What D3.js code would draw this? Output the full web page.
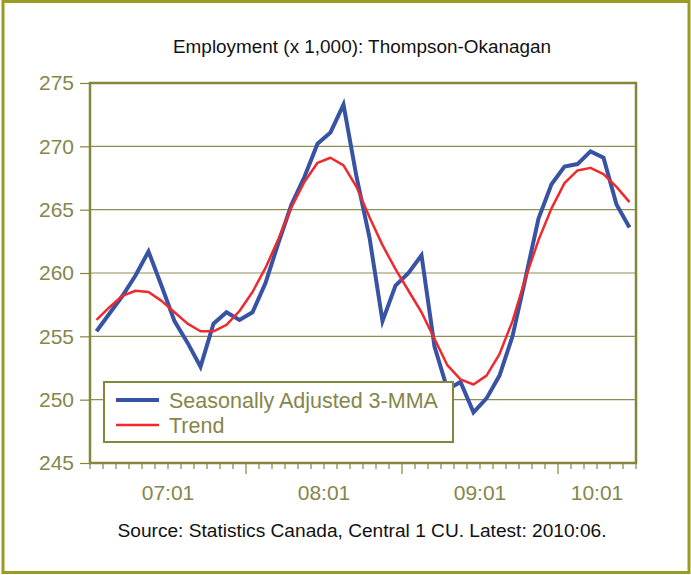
<!DOCTYPE html>
<html>
<head>
<meta charset="utf-8">
<script src="https://cdn.jsdelivr.net/npm/d3@7"></script>
<style>
  html, body { margin: 0; padding: 0; background: #fff; }
  svg { display: block; font-family: "Liberation Sans", Arial, sans-serif; }
</style>
</head>
<body>
<svg id="chart" width="691" height="575"></svg>
<script>
// Monthly categories, 2007:01 .. 2010:06
const months = [
  '07:01','07:02','07:03','07:04','07:05','07:06','07:07','07:08','07:09','07:10','07:11','07:12',
  '08:01','08:02','08:03','08:04','08:05','08:06','08:07','08:08','08:09','08:10','08:11','08:12',
  '09:01','09:02','09:03','09:04','09:05','09:06','09:07','09:08','09:09','09:10','09:11','09:12',
  '10:01','10:02','10:03','10:04','10:05','10:06'
];

const seasAdj = [
  255.4, 256.8, 258.2, 259.8, 261.7, 259.0, 256.2, 254.5, 252.6, 256.0, 256.9, 256.3,
  256.9, 259.2, 262.4, 265.4, 267.6, 270.2, 271.1, 273.3, 267.6, 262.8, 256.2, 259.0,
  260.0, 261.4, 254.2, 250.8, 251.4, 249.0, 250.1, 251.9, 255.0, 259.6, 264.3, 267.0,
  268.4, 268.6, 269.6, 269.1, 265.4, 263.6
];

const trend = [
  256.3, 257.3, 258.2, 258.6, 258.5, 257.8, 256.9, 256.0, 255.4, 255.4, 255.9, 257.0,
  258.5, 260.4, 262.7, 265.2, 267.2, 268.7, 269.1, 268.5, 266.8, 264.4, 262.2, 260.3,
  258.6, 256.9, 254.8, 252.7, 251.6, 251.2, 251.9, 253.6, 256.2, 259.6, 262.6, 265.1,
  267.1, 268.1, 268.3, 267.8, 266.8, 265.6
];

const yTicks = [245, 250, 255, 260, 265, 270, 275];
const xLabels = ['07:01', '08:01', '09:01', '10:01'];
const seriesNames = ['Seasonally Adjusted 3-MMA', 'Trend'];

const OLIVE = '#85853c';
const OLIVE_TXT = '#86864a';
const GRID = '#8e8e52';
const BLUE = '#3852a4';
const RED = '#ee2a2e';

const svg = d3.select('#chart');
const plot = { left: 90, right: 636, top: 83, bottom: 463 };

// outer frame
svg.append('rect')
  .attr('x', 3).attr('y', 1.5).attr('width', 686).attr('height', 571)
  .attr('fill', 'none').attr('stroke', '#9b9b22').attr('stroke-width', 3);

const x = d3.scaleBand().domain(months).range([plot.left, plot.right]).padding(0);
const y = d3.scaleLinear().domain([245, 275]).range([plot.bottom, plot.top]);
const cx = d => x(d) + x.bandwidth() / 2;

// title
svg.append('text')
  .attr('x', 362).attr('y', 53)
  .attr('text-anchor', 'middle')
  .attr('textLength', 378).attr('lengthAdjust', 'spacingAndGlyphs')
  .style('font-size', '17.5px').style('fill', '#111')
  .text('Employment (x 1,000): Thompson-Okanagan');

// gridlines
svg.append('g').selectAll('line').data(yTicks.slice(1, -1)).join('line')
  .attr('x1', plot.left).attr('x2', plot.right)
  .attr('y1', d => y(d)).attr('y2', d => y(d))
  .attr('stroke', GRID).attr('stroke-width', 1.2);

// y axis
const yAxis = svg.append('g')
  .attr('transform', `translate(${plot.left},0)`)
  .call(d3.axisLeft(y).tickValues(yTicks).tickSize(10).tickPadding(6).tickFormat(d3.format('d')));
yAxis.select('.domain').remove();
yAxis.selectAll('.tick line').attr('stroke', OLIVE).attr('stroke-width', 1.2);
yAxis.selectAll('.tick text')
  .attr('fill', OLIVE_TXT).style('font-size', '21px')
  .style('font-family', '"Liberation Sans", Arial, sans-serif');

// x ticks at category boundaries
const bounds = months.map(m => x(m)).concat([plot.right]);
svg.append('g').selectAll('line').data(bounds).join('line')
  .attr('x1', d => d).attr('x2', d => d)
  .attr('y1', plot.bottom)
  .attr('y2', (d, i) => plot.bottom + (i % 12 === 0 && i > 0 && i < months.length ? 11 : 6))
  .attr('stroke', OLIVE).attr('stroke-width', 1.2);

// x labels, centred on each year group (last one kept inside plot)
svg.append('g').selectAll('text').data(xLabels).join('text')
  .attr('x', d => {
    const i = months.indexOf(d);
    const j = Math.min(i + 11, months.length - 1);
    const c = (x(months[i]) + x(months[j]) + x.bandwidth()) / 2;
    return Math.min(c, plot.right - 27);
  })
  .attr('y', 500)
  .attr('text-anchor', 'middle')
  .style('font-size', '21px').style('fill', OLIVE_TXT)
  .text(d => d);

// series
const line = d3.line().x((d, i) => cx(months[i])).y(d => y(d));
svg.append('path').datum(seasAdj)
  .attr('d', line).attr('fill', 'none')
  .attr('stroke', BLUE).attr('stroke-width', 4).attr('stroke-linejoin', 'miter');
svg.append('path').datum(trend)
  .attr('d', line).attr('fill', 'none')
  .attr('stroke', RED).attr('stroke-width', 2.5).attr('stroke-linejoin', 'round');

// plot border
svg.append('rect')
  .attr('x', plot.left).attr('y', plot.top)
  .attr('width', plot.right - plot.left).attr('height', plot.bottom - plot.top)
  .attr('fill', 'none').attr('stroke', OLIVE).attr('stroke-width', 2.5);

// legend
const legend = svg.append('g').attr('transform', 'translate(104,382)');
legend.append('rect')
  .attr('width', 349).attr('height', 60)
  .attr('fill', '#fff').attr('stroke', OLIVE).attr('stroke-width', 2);
const items = legend.selectAll('g.item').data(seriesNames).join('g')
  .attr('class', 'item')
  .attr('transform', (d, i) => `translate(0,${18 + i * 25})`);
items.append('line')
  .attr('x1', 12).attr('x2', 55)
  .attr('stroke', (d, i) => i === 0 ? BLUE : RED)
  .attr('stroke-width', (d, i) => i === 0 ? 4 : 2.5);
items.append('text')
  .attr('x', 65).attr('dy', '0.36em')
  .style('font-size', '21.5px').style('fill', OLIVE_TXT)
  .text(d => d);

// source note
svg.append('text')
  .attr('x', 362).attr('y', 537)
  .attr('text-anchor', 'middle')
  .attr('textLength', 489).attr('lengthAdjust', 'spacingAndGlyphs')
  .style('font-size', '17.5px').style('fill', '#111')
  .text('Source:  Statistics Canada, Central 1 CU. Latest: 2010:06.');
</script>
</body>
</html>
